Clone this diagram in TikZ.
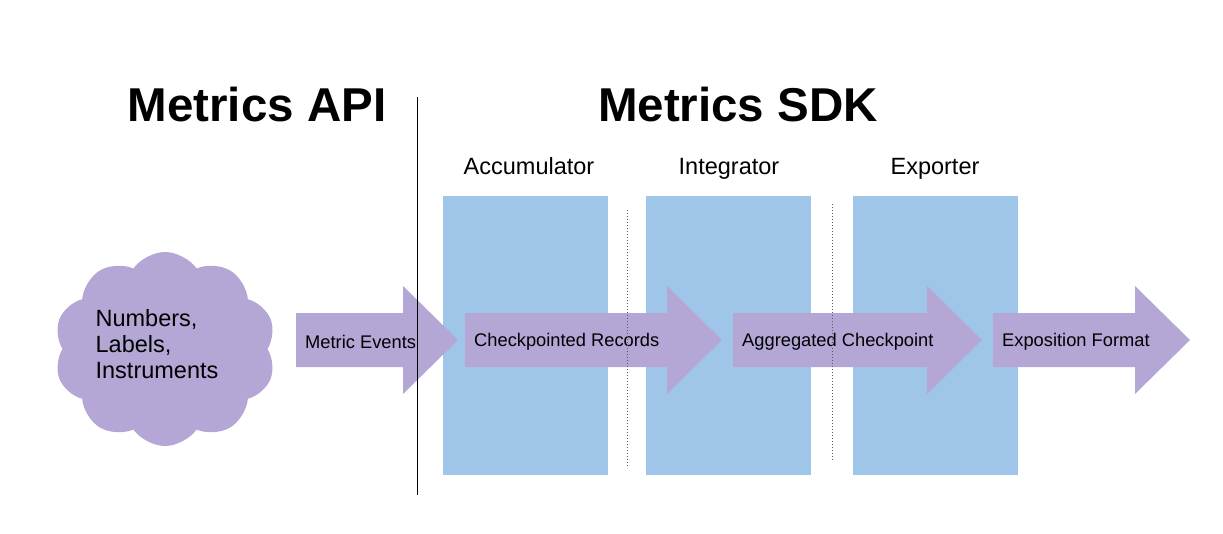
\documentclass[tikz,border=0pt]{standalone}
\usepackage{fontspec}
\setmainfont{Liberation Sans}
\usetikzlibrary{shapes.symbols}
\definecolor{sdkblue}{HTML}{9FC5E8}
\definecolor{evtpurple}{HTML}{B4A7D6}
\tikzset{
  title/.style={font=\fontsize{47.5}{55}\selectfont\bfseries, anchor=base, inner sep=0},
  stage/.style={fill=sdkblue, minimum width=165, minimum height=279, inner sep=0},
  stagelbl/.style={font=\fontsize{23.5}{27}\selectfont, anchor=base, inner sep=0},
  arrowlbl/.style={font=\fontsize{18.3}{21}\selectfont, anchor=west, inner sep=0},
  divider/.style={gray!70!black, line width=0.8, dash pattern=on 1pt off 2pt},
}
\begin{document}
\begin{tikzpicture}[x=1pt,y=-1pt]
\useasboundingbox (0,0) rectangle (1223,533);
% headings
\node[title] (api) at (257,121) {Metrics API};
\node[title] (sdk) at (738,121) {Metrics SDK};
% sdk stages
\node[stage] (acc) at (525.5,335.5) {};
\node[stage] (integ) at (728,335.5) {};
\node[stage] (exp) at (935.5,335.5) {};
\node[stagelbl] (acclbl) at (529,174) {Accumulator};
\node[stagelbl] (integlbl) at (729,174) {Integrator};
\node[stagelbl] (explbl) at (935,174) {Exporter};
% source cloud
\node[cloud, cloud puffs=10, cloud puff arc=110, fill=evtpurple, minimum width=222, minimum height=194, aspect=1.15] (src) at (165,349) {};
\node[font=\fontsize{23.5}{26}\selectfont, align=left, inner sep=0] (srclbl) at (157,344) {Numbers,\\Labels,\\Instruments};
% data flow arrows
\foreach \s/\t/\lbl/\nm in {296/458/Metric Events/evt, 465/722/Checkpointed Records/rec, 733/982/Aggregated Checkpoint/agg, 993/1190/Exposition Format/fmt}{
  \fill[evtpurple] (\s,313) -- (\t-55,313) -- (\t-55,286) -- (\t,340) -- (\t-55,394) -- (\t-55,367) -- (\s,367) -- cycle;
  \node[arrowlbl] (\nm) at (\s+9,341.5) {\lbl};
}
% separators
\draw[divider] (627,210) -- (627,467);
\draw[divider] (832,204) -- (832,461);
\draw[line width=1] (417,97) -- (417,495);
\end{tikzpicture}
\end{document}
